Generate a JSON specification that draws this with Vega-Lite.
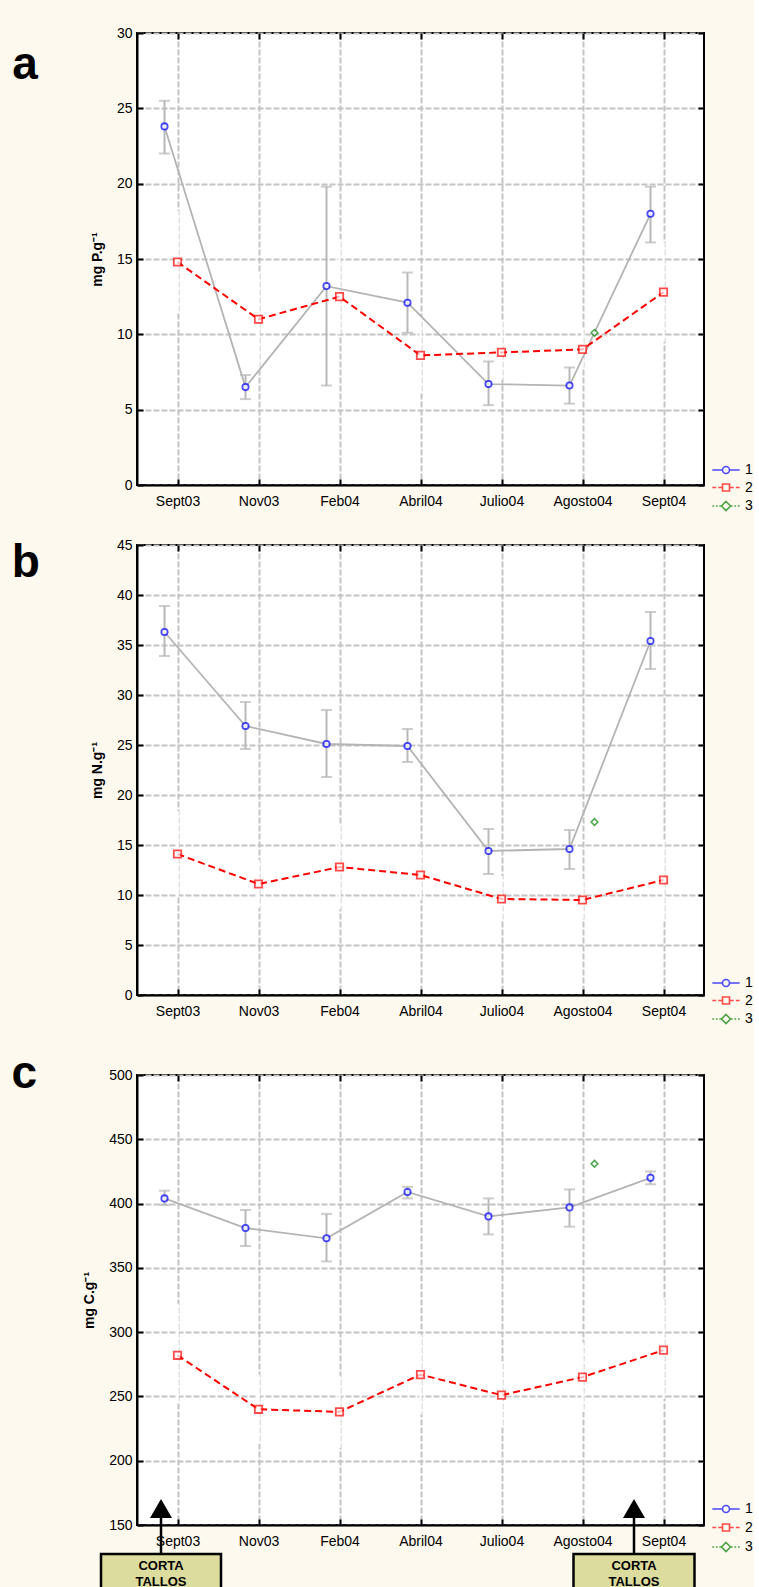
{
  "$schema": "https://vega.github.io/schema/vega-lite/v6.json",
  "background": "#fdf9ee",
  "padding": {"left": 10, "top": 25, "right": 0, "bottom": 0},
  "spacing": 22,
  "resolve": {"scale": {"color": "independent", "shape": "independent"}},
  "config": {
    "font": "Liberation Sans",
    "view": {"stroke": "black", "strokeWidth": 2, "fill": "white"},
    "axis": {
      "labelFont": "Liberation Sans", "labelFontSize": 14, "labelColor": "black",
      "titleFont": "Liberation Sans", "titleFontSize": 14, "titleFontWeight": "bold", "titleColor": "black",
      "grid": true, "gridColor": "#c4c4c4", "gridWidth": 2, "gridDash": [6, 2],
      "domainColor": "black", "domainWidth": 2, "tickColor": "black", "tickWidth": 2, "tickSize": -6
    },
    "legend": {"labelFont": "Liberation Sans", "labelFontSize": 14, "labelColor": "black"},
    "title": {"font": "Liberation Sans", "color": "black"}
  },
  "datasets": {
    "d": [
      {"p": "a", "serie": "1", "mes": "Sept03", "v": 23.8, "lo": 22.0, "hi": 25.5},
      {"p": "a", "serie": "1", "mes": "Nov03", "v": 6.5, "lo": 5.7, "hi": 7.3},
      {"p": "a", "serie": "1", "mes": "Feb04", "v": 13.2, "lo": 6.6, "hi": 19.8},
      {"p": "a", "serie": "1", "mes": "Abril04", "v": 12.1, "lo": 10.1, "hi": 14.1},
      {"p": "a", "serie": "1", "mes": "Julio04", "v": 6.7, "lo": 5.3, "hi": 8.2},
      {"p": "a", "serie": "1", "mes": "Agosto04", "v": 6.6, "lo": 5.4, "hi": 7.8},
      {"p": "a", "serie": "1", "mes": "Sept04", "v": 18.0, "lo": 16.1, "hi": 19.8},
      {"p": "a", "serie": "2", "mes": "Sept03", "v": 14.8, "lo": 11.4, "hi": 18.2},
      {"p": "a", "serie": "2", "mes": "Nov03", "v": 11.0, "lo": 7.6, "hi": 14.1},
      {"p": "a", "serie": "2", "mes": "Feb04", "v": 12.5, "lo": 10.0, "hi": 16.3},
      {"p": "a", "serie": "2", "mes": "Abril04", "v": 8.6, "lo": 6.1, "hi": 11.2},
      {"p": "a", "serie": "2", "mes": "Julio04", "v": 8.8, "lo": 7.0, "hi": 10.9},
      {"p": "a", "serie": "2", "mes": "Agosto04", "v": 9.0, "lo": 7.8, "hi": 10.4},
      {"p": "a", "serie": "2", "mes": "Sept04", "v": 12.8, "lo": 9.5, "hi": 16.1},
      {"p": "a", "serie": "3", "mes": "Agosto04", "v": 10.1},
      {"p": "b", "serie": "1", "mes": "Sept03", "v": 36.3, "lo": 33.9, "hi": 38.9},
      {"p": "b", "serie": "1", "mes": "Nov03", "v": 26.9, "lo": 24.6, "hi": 29.3},
      {"p": "b", "serie": "1", "mes": "Feb04", "v": 25.1, "lo": 21.8, "hi": 28.5},
      {"p": "b", "serie": "1", "mes": "Abril04", "v": 24.9, "lo": 23.3, "hi": 26.6},
      {"p": "b", "serie": "1", "mes": "Julio04", "v": 14.4, "lo": 12.1, "hi": 16.6},
      {"p": "b", "serie": "1", "mes": "Agosto04", "v": 14.6, "lo": 12.6, "hi": 16.5},
      {"p": "b", "serie": "1", "mes": "Sept04", "v": 35.4, "lo": 32.6, "hi": 38.3},
      {"p": "b", "serie": "2", "mes": "Sept03", "v": 14.1, "lo": 9.8, "hi": 18.4},
      {"p": "b", "serie": "2", "mes": "Nov03", "v": 11.1, "lo": 8.7, "hi": 13.5},
      {"p": "b", "serie": "2", "mes": "Feb04", "v": 12.8, "lo": 8.6, "hi": 17.0},
      {"p": "b", "serie": "2", "mes": "Abril04", "v": 12.0, "lo": 9.5, "hi": 14.6},
      {"p": "b", "serie": "2", "mes": "Julio04", "v": 9.6, "lo": 7.5, "hi": 11.9},
      {"p": "b", "serie": "2", "mes": "Agosto04", "v": 9.5, "lo": 7.6, "hi": 11.6},
      {"p": "b", "serie": "2", "mes": "Sept04", "v": 11.5, "lo": 7.5, "hi": 15.5},
      {"p": "b", "serie": "3", "mes": "Agosto04", "v": 17.3},
      {"p": "c", "serie": "1", "mes": "Sept03", "v": 404, "lo": 399, "hi": 410},
      {"p": "c", "serie": "1", "mes": "Nov03", "v": 381, "lo": 367, "hi": 395},
      {"p": "c", "serie": "1", "mes": "Feb04", "v": 373, "lo": 355, "hi": 392},
      {"p": "c", "serie": "1", "mes": "Abril04", "v": 409, "lo": 404, "hi": 413},
      {"p": "c", "serie": "1", "mes": "Julio04", "v": 390, "lo": 376, "hi": 404},
      {"p": "c", "serie": "1", "mes": "Agosto04", "v": 397, "lo": 382, "hi": 411},
      {"p": "c", "serie": "1", "mes": "Sept04", "v": 420, "lo": 415, "hi": 425},
      {"p": "c", "serie": "2", "mes": "Sept03", "v": 282, "lo": 245, "hi": 322},
      {"p": "c", "serie": "2", "mes": "Nov03", "v": 240, "lo": 213, "hi": 267},
      {"p": "c", "serie": "2", "mes": "Feb04", "v": 238, "lo": 210, "hi": 266},
      {"p": "c", "serie": "2", "mes": "Abril04", "v": 267, "lo": 236, "hi": 298},
      {"p": "c", "serie": "2", "mes": "Julio04", "v": 251, "lo": 226, "hi": 276},
      {"p": "c", "serie": "2", "mes": "Agosto04", "v": 265, "lo": 238, "hi": 292},
      {"p": "c", "serie": "2", "mes": "Sept04", "v": 286, "lo": 248, "hi": 325},
      {"p": "c", "serie": "3", "mes": "Agosto04", "v": 431}
    ],
    "ann": [
      {"mes": "Sept03", "texto": "CORTA TALLOS"},
      {"mes": "Sept04", "texto": "CORTA TALLOS"}
    ]
  },
  "vconcat": [
    {
      "width": 567, "height": 452,
      "title": {"text": "a", "orient": "left", "anchor": "end", "angle": 0, "align": "right", "baseline": "alphabetic", "fontSize": 46, "fontWeight": "bold", "offset": 27, "dy": 53},
      "data": {"name": "d"},
      "transform": [{"filter": "datum.p == 'a'"}],
      "resolve": {"axis": {"x": "independent", "y": "independent"}},
      "layer": [
        {"transform": [{"filter": "datum.serie == '2'"}],
         "mark": {"type": "rule", "color": "white", "strokeWidth": 2.5},
         "encoding": {
           "x": {"field": "mes", "type": "nominal", "scale": {"type": "point", "padding": 0.5, "domain": ["Sept03", "Nov03", "Feb04", "Abril04", "Julio04", "Agosto04", "Sept04"]}, "axis": {"title": null, "labelAngle": 0, "orient": "bottom", "labelPadding": 15}},
           "y": {"field": "lo", "type": "quantitative", "scale": {"domain": [0, 30], "nice": false, "zero": false}, "axis": {"title": "mg P.g⁻¹", "values": [0, 5, 10, 15, 20, 25, 30], "labelPadding": 11, "titlePadding": 12}},
           "y2": {"field": "hi"}}},
        {"transform": [{"filter": "datum.serie == '1'"}],
         "mark": {"type": "rule", "color": "#b8b8b8", "strokeWidth": 2, "xOffset": -13},
         "encoding": {"x": {"field": "mes", "type": "nominal", "axis": null}, "y": {"field": "lo", "type": "quantitative", "axis": null}, "y2": {"field": "hi"}}},
        {"transform": [{"filter": "datum.serie == '1'"}],
         "mark": {"type": "tick", "color": "#b8b8b8", "thickness": 2, "size": 11, "xOffset": -13},
         "encoding": {"x": {"field": "mes", "type": "nominal", "axis": null}, "y": {"field": "lo", "type": "quantitative", "axis": null}}},
        {"transform": [{"filter": "datum.serie == '1'"}],
         "mark": {"type": "tick", "color": "#b8b8b8", "thickness": 2, "size": 11, "xOffset": -13},
         "encoding": {"x": {"field": "mes", "type": "nominal", "axis": null}, "y": {"field": "hi", "type": "quantitative", "axis": null}}},
        {"transform": [{"filter": "datum.serie == '1'"}],
         "mark": {"type": "line", "color": "#b4b4b4", "strokeWidth": 1.8, "xOffset": -13},
         "encoding": {"x": {"field": "mes", "type": "nominal", "axis": null}, "y": {"field": "v", "type": "quantitative", "axis": null}}},
        {"transform": [{"filter": "datum.serie == '2'"}],
         "mark": {"type": "line", "color": "#ff0000", "strokeWidth": 2, "strokeDash": [7, 4]},
         "encoding": {
           "x": {"field": "mes", "type": "nominal", "axis": {"orient": "top", "labels": false, "grid": false, "domain": false, "title": null}},
           "y": {"field": "v", "type": "quantitative", "axis": {"orient": "right", "labels": false, "grid": false, "domain": false, "title": null, "values": [0, 5, 10, 15, 20, 25, 30]}}}},
        {"transform": [{"filter": "false"}],
         "mark": {"type": "point", "filled": false, "strokeWidth": 1.6},
         "encoding": {"x": {"field": "mes", "type": "nominal", "axis": null}, "y": {"field": "v", "type": "quantitative", "axis": null},
           "color": {"field": "serie", "type": "nominal", "scale": {"domain": ["1", "2", "3"], "range": ["#0000ff", "#ff0000", "#008000"]}, "legend": {"title": null, "orient": "none", "legendX": 582, "legendY": 430, "labelOffset": 12, "rowPadding": 3.5, "symbolSize": 49, "symbolStrokeWidth": 1.6}},
           "shape": {"field": "serie", "type": "nominal", "scale": {"domain": ["1", "2", "3"], "range": ["M-3.9,0H-1M1,0H3.9M-1,0A1,1,0,1,1,1,0A1,1,0,1,1,-1,0", "M-3.9,0H-2.8M-2.2,0H-1M1,0H2.2M2.8,0H3.9M-1,-1H1V1H-1Z", "M-3.9,0H-3.4M-2.9,0H-2.4M-1.9,0H-1.4M1.4,0H1.9M2.4,0H2.9M3.4,0H3.9M0,-1.3L1.3,0L0,1.3L-1.3,0Z"]}, "legend": {"title": null, "orient": "none", "legendX": 582, "legendY": 430, "labelOffset": 12, "rowPadding": 3.5, "symbolSize": 49, "symbolStrokeWidth": 1.6}}}},
        {"transform": [{"filter": "datum.serie == '1'"}],
         "mark": {"type": "point", "shape": "circle", "filled": false, "fill": "white", "size": 40, "strokeWidth": 1.8, "xOffset": -13},
         "encoding": {"x": {"field": "mes", "type": "nominal", "axis": null}, "y": {"field": "v", "type": "quantitative", "axis": null}, "color": {"field": "serie", "type": "nominal"}}},
        {"transform": [{"filter": "datum.serie == '2'"}],
         "mark": {"type": "point", "shape": "square", "filled": false, "fill": "white", "size": 55, "strokeWidth": 1.8},
         "encoding": {"x": {"field": "mes", "type": "nominal", "axis": null}, "y": {"field": "v", "type": "quantitative", "axis": null}, "color": {"field": "serie", "type": "nominal"}}},
        {"transform": [{"filter": "datum.serie == '3'"}],
         "mark": {"type": "point", "shape": "diamond", "filled": false, "fill": "white", "size": 45, "strokeWidth": 1.5, "xOffset": 12},
         "encoding": {"x": {"field": "mes", "type": "nominal", "axis": null}, "y": {"field": "v", "type": "quantitative", "axis": null}, "color": {"field": "serie", "type": "nominal"}}}
      ]
    },
    {
      "width": 567, "height": 450,
      "title": {"text": "b", "orient": "left", "anchor": "end", "angle": 0, "align": "right", "baseline": "alphabetic", "fontSize": 46, "fontWeight": "bold", "offset": 22.5, "dy": 39},
      "data": {"name": "d"},
      "transform": [{"filter": "datum.p == 'b'"}],
      "resolve": {"axis": {"x": "independent", "y": "independent"}},
      "layer": [
        {"transform": [{"filter": "datum.serie == '2'"}],
         "mark": {"type": "rule", "color": "white", "strokeWidth": 2.5},
         "encoding": {
           "x": {"field": "mes", "type": "nominal", "scale": {"type": "point", "padding": 0.5, "domain": ["Sept03", "Nov03", "Feb04", "Abril04", "Julio04", "Agosto04", "Sept04"]}, "axis": {"title": null, "labelAngle": 0, "orient": "bottom", "labelPadding": 15}},
           "y": {"field": "lo", "type": "quantitative", "scale": {"domain": [0, 45], "nice": false, "zero": false}, "axis": {"title": "mg N.g⁻¹", "values": [0, 5, 10, 15, 20, 25, 30, 35, 40, 45], "labelPadding": 11, "titlePadding": 12}},
           "y2": {"field": "hi"}}},
        {"transform": [{"filter": "datum.serie == '1'"}],
         "mark": {"type": "rule", "color": "#b8b8b8", "strokeWidth": 2, "xOffset": -13},
         "encoding": {"x": {"field": "mes", "type": "nominal", "axis": null}, "y": {"field": "lo", "type": "quantitative", "axis": null}, "y2": {"field": "hi"}}},
        {"transform": [{"filter": "datum.serie == '1'"}],
         "mark": {"type": "tick", "color": "#b8b8b8", "thickness": 2, "size": 11, "xOffset": -13},
         "encoding": {"x": {"field": "mes", "type": "nominal", "axis": null}, "y": {"field": "lo", "type": "quantitative", "axis": null}}},
        {"transform": [{"filter": "datum.serie == '1'"}],
         "mark": {"type": "tick", "color": "#b8b8b8", "thickness": 2, "size": 11, "xOffset": -13},
         "encoding": {"x": {"field": "mes", "type": "nominal", "axis": null}, "y": {"field": "hi", "type": "quantitative", "axis": null}}},
        {"transform": [{"filter": "datum.serie == '1'"}],
         "mark": {"type": "line", "color": "#b4b4b4", "strokeWidth": 1.8, "xOffset": -13},
         "encoding": {"x": {"field": "mes", "type": "nominal", "axis": null}, "y": {"field": "v", "type": "quantitative", "axis": null}}},
        {"transform": [{"filter": "datum.serie == '2'"}],
         "mark": {"type": "line", "color": "#ff0000", "strokeWidth": 2, "strokeDash": [7, 4]},
         "encoding": {
           "x": {"field": "mes", "type": "nominal", "axis": {"orient": "top", "labels": false, "grid": false, "domain": false, "title": null}},
           "y": {"field": "v", "type": "quantitative", "axis": {"orient": "right", "labels": false, "grid": false, "domain": false, "title": null, "values": [0, 5, 10, 15, 20, 25, 30, 35, 40, 45]}}}},
        {"transform": [{"filter": "false"}],
         "mark": {"type": "point", "filled": false, "strokeWidth": 1.6},
         "encoding": {"x": {"field": "mes", "type": "nominal", "axis": null}, "y": {"field": "v", "type": "quantitative", "axis": null},
           "color": {"field": "serie", "type": "nominal", "scale": {"domain": ["1", "2", "3"], "range": ["#0000ff", "#ff0000", "#008000"]}, "legend": {"title": null, "orient": "none", "legendX": 582, "legendY": 431, "labelOffset": 12, "rowPadding": 3.5, "symbolSize": 49, "symbolStrokeWidth": 1.6}},
           "shape": {"field": "serie", "type": "nominal", "scale": {"domain": ["1", "2", "3"], "range": ["M-3.9,0H-1M1,0H3.9M-1,0A1,1,0,1,1,1,0A1,1,0,1,1,-1,0", "M-3.9,0H-2.8M-2.2,0H-1M1,0H2.2M2.8,0H3.9M-1,-1H1V1H-1Z", "M-3.9,0H-3.4M-2.9,0H-2.4M-1.9,0H-1.4M1.4,0H1.9M2.4,0H2.9M3.4,0H3.9M0,-1.3L1.3,0L0,1.3L-1.3,0Z"]}, "legend": {"title": null, "orient": "none", "legendX": 582, "legendY": 431, "labelOffset": 12, "rowPadding": 3.5, "symbolSize": 49, "symbolStrokeWidth": 1.6}}}},
        {"transform": [{"filter": "datum.serie == '1'"}],
         "mark": {"type": "point", "shape": "circle", "filled": false, "fill": "white", "size": 40, "strokeWidth": 1.8, "xOffset": -13},
         "encoding": {"x": {"field": "mes", "type": "nominal", "axis": null}, "y": {"field": "v", "type": "quantitative", "axis": null}, "color": {"field": "serie", "type": "nominal"}}},
        {"transform": [{"filter": "datum.serie == '2'"}],
         "mark": {"type": "point", "shape": "square", "filled": false, "fill": "white", "size": 55, "strokeWidth": 1.8},
         "encoding": {"x": {"field": "mes", "type": "nominal", "axis": null}, "y": {"field": "v", "type": "quantitative", "axis": null}, "color": {"field": "serie", "type": "nominal"}}},
        {"transform": [{"filter": "datum.serie == '3'"}],
         "mark": {"type": "point", "shape": "diamond", "filled": false, "fill": "white", "size": 45, "strokeWidth": 1.5, "xOffset": 12},
         "encoding": {"x": {"field": "mes", "type": "nominal", "axis": null}, "y": {"field": "v", "type": "quantitative", "axis": null}, "color": {"field": "serie", "type": "nominal"}}}
      ]
    },
    {
      "width": 567, "height": 450,
      "title": {"text": "c", "orient": "left", "anchor": "end", "angle": 0, "align": "right", "baseline": "alphabetic", "fontSize": 46, "fontWeight": "bold", "offset": 20, "dy": 20},
      "data": {"name": "d"},
      "transform": [{"filter": "datum.p == 'c'"}],
      "resolve": {"axis": {"x": "independent", "y": "independent"}},
      "layer": [
        {"transform": [{"filter": "datum.serie == '2'"}],
         "mark": {"type": "rule", "color": "white", "strokeWidth": 2.5},
         "encoding": {
           "x": {"field": "mes", "type": "nominal", "scale": {"type": "point", "padding": 0.5, "domain": ["Sept03", "Nov03", "Feb04", "Abril04", "Julio04", "Agosto04", "Sept04"]}, "axis": {"title": null, "labelAngle": 0, "orient": "bottom", "labelPadding": 15}},
           "y": {"field": "lo", "type": "quantitative", "scale": {"domain": [150, 500], "nice": false, "zero": false}, "axis": {"title": "mg C.g⁻¹", "values": [150, 200, 250, 300, 350, 400, 450, 500], "labelPadding": 11, "titlePadding": 12}},
           "y2": {"field": "hi"}}},
        {"transform": [{"filter": "datum.serie == '1'"}],
         "mark": {"type": "rule", "color": "#b8b8b8", "strokeWidth": 2, "xOffset": -13},
         "encoding": {"x": {"field": "mes", "type": "nominal", "axis": null}, "y": {"field": "lo", "type": "quantitative", "axis": null}, "y2": {"field": "hi"}}},
        {"transform": [{"filter": "datum.serie == '1'"}],
         "mark": {"type": "tick", "color": "#b8b8b8", "thickness": 2, "size": 11, "xOffset": -13},
         "encoding": {"x": {"field": "mes", "type": "nominal", "axis": null}, "y": {"field": "lo", "type": "quantitative", "axis": null}}},
        {"transform": [{"filter": "datum.serie == '1'"}],
         "mark": {"type": "tick", "color": "#b8b8b8", "thickness": 2, "size": 11, "xOffset": -13},
         "encoding": {"x": {"field": "mes", "type": "nominal", "axis": null}, "y": {"field": "hi", "type": "quantitative", "axis": null}}},
        {"transform": [{"filter": "datum.serie == '1'"}],
         "mark": {"type": "line", "color": "#b4b4b4", "strokeWidth": 1.8, "xOffset": -13},
         "encoding": {"x": {"field": "mes", "type": "nominal", "axis": null}, "y": {"field": "v", "type": "quantitative", "axis": null}}},
        {"transform": [{"filter": "datum.serie == '2'"}],
         "mark": {"type": "line", "color": "#ff0000", "strokeWidth": 2, "strokeDash": [7, 4]},
         "encoding": {
           "x": {"field": "mes", "type": "nominal", "axis": {"orient": "top", "labels": false, "grid": false, "domain": false, "title": null}},
           "y": {"field": "v", "type": "quantitative", "axis": {"orient": "right", "labels": false, "grid": false, "domain": false, "title": null, "values": [150, 200, 250, 300, 350, 400, 450, 500]}}}},
        {"transform": [{"filter": "false"}],
         "mark": {"type": "point", "filled": false, "strokeWidth": 1.6},
         "encoding": {"x": {"field": "mes", "type": "nominal", "axis": null}, "y": {"field": "v", "type": "quantitative", "axis": null},
           "color": {"field": "serie", "type": "nominal", "scale": {"domain": ["1", "2", "3"], "range": ["#0000ff", "#ff0000", "#008000"]}, "legend": {"title": null, "orient": "none", "legendX": 582, "legendY": 427, "labelOffset": 12, "rowPadding": 4.5, "symbolSize": 49, "symbolStrokeWidth": 1.6}},
           "shape": {"field": "serie", "type": "nominal", "scale": {"domain": ["1", "2", "3"], "range": ["M-3.9,0H-1M1,0H3.9M-1,0A1,1,0,1,1,1,0A1,1,0,1,1,-1,0", "M-3.9,0H-2.8M-2.2,0H-1M1,0H2.2M2.8,0H3.9M-1,-1H1V1H-1Z", "M-3.9,0H-3.4M-2.9,0H-2.4M-1.9,0H-1.4M1.4,0H1.9M2.4,0H2.9M3.4,0H3.9M0,-1.3L1.3,0L0,1.3L-1.3,0Z"]}, "legend": {"title": null, "orient": "none", "legendX": 582, "legendY": 427, "labelOffset": 12, "rowPadding": 4.5, "symbolSize": 49, "symbolStrokeWidth": 1.6}}}},
        {"transform": [{"filter": "datum.serie == '1'"}],
         "mark": {"type": "point", "shape": "circle", "filled": false, "fill": "white", "size": 40, "strokeWidth": 1.8, "xOffset": -13},
         "encoding": {"x": {"field": "mes", "type": "nominal", "axis": null}, "y": {"field": "v", "type": "quantitative", "axis": null}, "color": {"field": "serie", "type": "nominal"}}},
        {"transform": [{"filter": "datum.serie == '2'"}],
         "mark": {"type": "point", "shape": "square", "filled": false, "fill": "white", "size": 55, "strokeWidth": 1.8},
         "encoding": {"x": {"field": "mes", "type": "nominal", "axis": null}, "y": {"field": "v", "type": "quantitative", "axis": null}, "color": {"field": "serie", "type": "nominal"}}},
        {"transform": [{"filter": "datum.serie == '3'"}],
         "mark": {"type": "point", "shape": "diamond", "filled": false, "fill": "white", "size": 45, "strokeWidth": 1.5, "xOffset": 12},
         "encoding": {"x": {"field": "mes", "type": "nominal", "axis": null}, "y": {"field": "v", "type": "quantitative", "axis": null}, "color": {"field": "serie", "type": "nominal"}}},
        {"data": {"name": "ann"}, "transform": [{"filter": "datum.mes == 'Sept03'"}],
         "mark": {"type": "rule", "color": "black", "strokeWidth": 2.5, "xOffset": -16.5},
         "encoding": {"x": {"field": "mes", "type": "nominal", "axis": null}, "y": {"datum": 127.5, "type": "quantitative", "axis": null}, "y2": {"datum": 157}}},
        {"data": {"name": "ann"}, "transform": [{"filter": "datum.mes == 'Sept04'"}],
         "mark": {"type": "rule", "color": "black", "strokeWidth": 2.5, "xOffset": -29.5},
         "encoding": {"x": {"field": "mes", "type": "nominal", "axis": null}, "y": {"datum": 127.5, "type": "quantitative", "axis": null}, "y2": {"datum": 157}}},
        {"data": {"name": "ann"}, "transform": [{"filter": "datum.mes == 'Sept03'"}],
         "mark": {"type": "point", "shape": "triangle-up", "filled": true, "color": "black", "size": 484, "opacity": 1, "xOffset": -16.5},
         "encoding": {"x": {"field": "mes", "type": "nominal", "axis": null}, "y": {"datum": 162.8, "type": "quantitative", "axis": null}}},
        {"data": {"name": "ann"}, "transform": [{"filter": "datum.mes == 'Sept04'"}],
         "mark": {"type": "point", "shape": "triangle-up", "filled": true, "color": "black", "size": 484, "opacity": 1, "xOffset": -29.5},
         "encoding": {"x": {"field": "mes", "type": "nominal", "axis": null}, "y": {"datum": 162.8, "type": "quantitative", "axis": null}}},
        {"data": {"name": "ann"}, "transform": [{"filter": "datum.mes == 'Sept03'"}],
         "mark": {"type": "rect", "fill": "#dcdc9e", "stroke": "black", "strokeWidth": 2.5, "width": 120, "xOffset": -16.5},
         "encoding": {"x": {"field": "mes", "type": "nominal", "axis": null}, "y": {"datum": 127.5, "type": "quantitative", "axis": null}, "y2": {"datum": 80}}},
        {"data": {"name": "ann"}, "transform": [{"filter": "datum.mes == 'Sept04'"}],
         "mark": {"type": "rect", "fill": "#dcdc9e", "stroke": "black", "strokeWidth": 2.5, "width": 121, "xOffset": -29.5},
         "encoding": {"x": {"field": "mes", "type": "nominal", "axis": null}, "y": {"datum": 127.5, "type": "quantitative", "axis": null}, "y2": {"datum": 80}}},
        {"data": {"name": "ann"}, "transform": [{"filter": "datum.mes == 'Sept03'"}],
         "mark": {"type": "text", "font": "Liberation Sans", "fontSize": 13, "fontWeight": "bold", "color": "black", "lineBreak": " ", "lineHeight": 16, "baseline": "top", "xOffset": -16.5},
         "encoding": {"x": {"field": "mes", "type": "nominal", "axis": null}, "y": {"datum": 122.5, "type": "quantitative", "axis": null}, "text": {"field": "texto"}}},
        {"data": {"name": "ann"}, "transform": [{"filter": "datum.mes == 'Sept04'"}],
         "mark": {"type": "text", "font": "Liberation Sans", "fontSize": 13, "fontWeight": "bold", "color": "black", "lineBreak": " ", "lineHeight": 16, "baseline": "top", "xOffset": -29.5},
         "encoding": {"x": {"field": "mes", "type": "nominal", "axis": null}, "y": {"datum": 122.5, "type": "quantitative", "axis": null}, "text": {"field": "texto"}}}
      ]
    }
  ]
}
